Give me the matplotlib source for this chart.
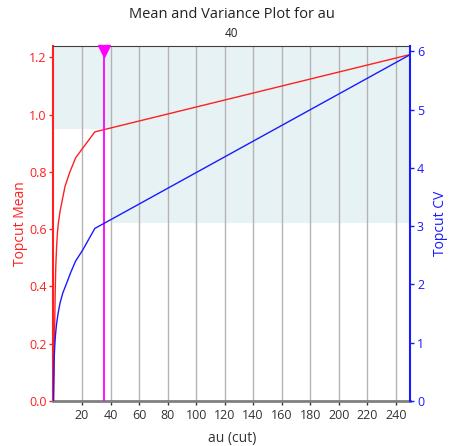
import numpy as np
import matplotlib.pyplot as plt

plt.rcParams['font.family'] = ['Open Sans', 'DejaVu Sans']

# topcut mean (left axis) and CV (right axis) against the cut value
cut_mean = [0, 0.8, 1.2, 1.6, 2.2, 2.8, 3.4, 4.5, 5.7, 8.1, 11.5, 15.6, 29, 250]
topcut_mean = [0, 0.25, 0.38, 0.47, 0.54, 0.59, 0.62, 0.66, 0.69, 0.75, 0.80, 0.85, 0.94, 1.21]

cut_cv = [0, 0.15, 0.35, 0.6, 1, 1.5, 2.2, 3.2, 4.6, 6.5, 9.2, 12, 15.5, 20.5, 29, 250]
topcut_cv = [0, 0.35, 0.6, 0.8, 1.0, 1.16, 1.33, 1.5, 1.68, 1.85, 2.02, 2.2, 2.4, 2.59, 2.96, 5.94]

selected_cut = 35.7
shade_split = 40
shade_mean_low = 0.95
shade_cv_low = 3.05

xticks = np.arange(20, 241, 20)
mean_ticks = [0.0, 0.2, 0.4, 0.6, 0.8, 1.0, 1.2]
cv_ticks = [0, 1, 2, 3, 4, 5, 6]

mean_top = 1.24
cv_top = 6.09

fig = plt.figure(figsize=(4.51, 4.46), dpi=100)
ax = fig.add_axes([0.1186, 0.1009, 0.7905, 0.796])
ax2 = ax.twinx()

ax.set_xlim(0, 250)
ax.set_ylim(0, mean_top)
ax2.set_ylim(0, cv_top)

# shaded region (in left axis units)
shade_col = '#e7f2f5'
ax.fill_between([0, shade_split], shade_mean_low, mean_top, color=shade_col, lw=0, zorder=0)
ax.fill_between([shade_split, 250], shade_cv_low / cv_top * mean_top, mean_top,
                color=shade_col, lw=0, zorder=0)

for xv in xticks:
    ax.axvline(xv, color='#b4b4b4', lw=1.0, zorder=1)

ax.plot(cut_mean, topcut_mean, color='#ff2020', lw=1.0, zorder=3)
ax2.plot(cut_cv, topcut_cv, color='#1a1aff', lw=1.0, zorder=3)

ax.axvline(selected_cut, color='#ff00ff', lw=1.3, zorder=4)
ax.plot([selected_cut], [mean_top - 0.018], marker='v', color='#ff00ff',
        markersize=9, clip_on=False, zorder=5)

ax.set_xticks(xticks)
ax.set_yticks(mean_ticks)
ax.set_yticklabels(['%.1f' % v for v in mean_ticks])
ax2.set_yticks(cv_ticks)

ax.tick_params(axis='x', colors='#333333', labelsize=9, length=3, width=1, pad=3)
ax.tick_params(axis='y', colors='#ff2020', labelsize=9, length=3, width=1, pad=2)
ax2.tick_params(axis='y', colors='#1a1aff', labelsize=9, length=3, width=1, pad=2)

ax.spines['left'].set_color('#ff2020')
ax.spines['left'].set_linewidth(1.5)
ax.spines['bottom'].set_color('#808080')
ax.spines['bottom'].set_linewidth(2)
ax.spines['top'].set_color('#404040')
ax.spines['top'].set_linewidth(0.8)
ax.spines['right'].set_visible(False)
ax2.spines['right'].set_color('#1a1aff')
ax2.spines['right'].set_linewidth(1.5)
ax2.spines['left'].set_visible(False)
ax2.spines['top'].set_visible(False)
ax2.spines['bottom'].set_visible(False)

ax.set_xlabel('au (cut)', fontsize=10, color='#333333', labelpad=6)
ax.set_ylabel('Topcut Mean', fontsize=10, color='#ff2020', labelpad=1)
ax2.set_ylabel('Topcut CV', fontsize=10, color='#1a1aff', labelpad=6)

fig.text(0.514, 0.968, 'Mean and Variance Plot for au', ha='center', va='center',
         fontsize=10.5, color='#222222')
fig.text(0.514, 0.926, '40', ha='center', va='center', fontsize=8.5, color='#222222')

fig.savefig('out.png', dpi=100)
